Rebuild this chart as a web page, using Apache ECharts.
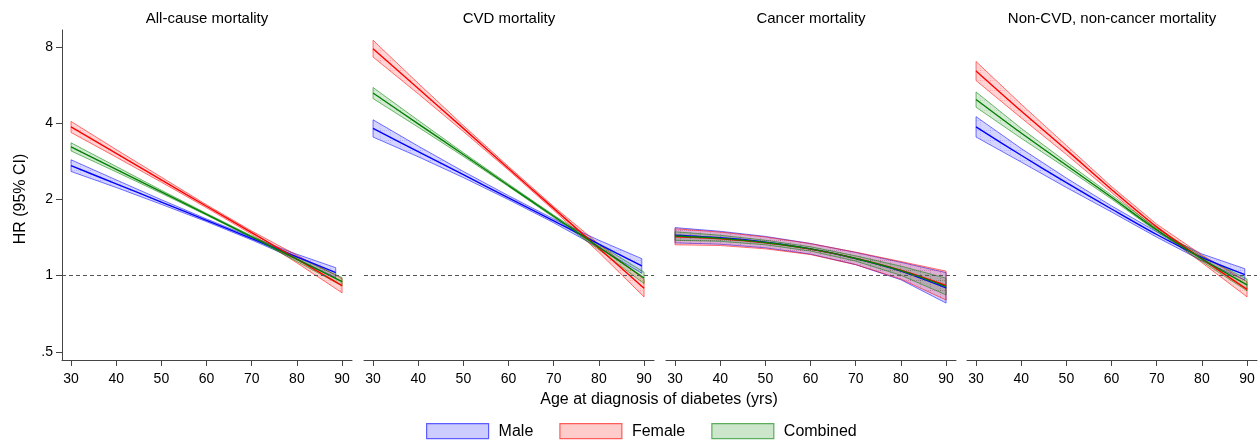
<!DOCTYPE html>
<html>
<head>
<meta charset="utf-8">
<script src="https://cdn.jsdelivr.net/npm/echarts@6/dist/echarts.min.js"></script>
<style>
html,body{margin:0;padding:0;background:#fff;}
#chart{width:1260px;height:441px;}
</style>
</head>
<body>
<div id="chart"></div>
<script>
// ---------- data ----------
const panelTitles = ['All-cause mortality', 'CVD mortality', 'Cancer mortality', 'Non-CVD, non-cancer mortality'];
const groupNames = ['Male', 'Female', 'Combined'];
const ageTicks = [30, 40, 50, 60, 70, 80, 90];
const hrTicks = [0.5, 1, 2, 4, 8];
const hrTickLabels = ['.5', '1', '2', '4', '8'];
const xTitle = 'Age at diagnosis of diabetes (yrs)';
const yTitle = 'HR (95% CI)';

const ages = [30, 40, 50, 60, 70, 80, 90];
const maleAgesAll = [30, 40, 50, 60, 70, 80, 88.6];
const maleAgesCvd = [30, 40, 50, 60, 70, 80, 89.5];
const maleAgesCancer = [30, 40, 50, 60, 70, 80, 90];
const maleAgesOther = [30, 40, 50, 60, 70, 80, 89.5];

// All-cause mortality
const allMaleHR = [2.72, 2.305, 1.953, 1.654, 1.401, 1.186, 1.028];
const allMaleLo = [2.58, 2.23, 1.913, 1.634, 1.383, 1.157, 0.983];
const allMaleHi = [2.87, 2.39, 1.995, 1.675, 1.418, 1.215, 1.075];
const allFemaleHR = [3.87, 3.04, 2.39, 1.88, 1.478, 1.162, 0.913];
const allFemaleLo = [3.68, 2.94, 2.34, 1.854, 1.456, 1.123, 0.855];
const allFemaleHi = [4.07, 3.15, 2.45, 1.906, 1.501, 1.203, 0.975];
const allCombHR = [3.23, 2.63, 2.145, 1.747, 1.424, 1.161, 0.946];
const allCombLo = [3.11, 2.57, 2.115, 1.733, 1.412, 1.137, 0.911];
const allCombHi = [3.35, 2.70, 2.175, 1.762, 1.436, 1.185, 0.983];

// CVD mortality
const cvdMaleHR = [3.82, 3.09, 2.505, 2.03, 1.646, 1.333, 1.092];
const cvdMaleLo = [3.53, 2.95, 2.44, 1.996, 1.618, 1.288, 1.022];
const cvdMaleHi = [4.13, 3.25, 2.58, 2.07, 1.675, 1.380, 1.167];
const cvdFemaleHR = [7.89, 5.49, 3.82, 2.65, 1.844, 1.282, 0.892];
const cvdFemaleLo = [7.31, 5.23, 3.71, 2.61, 1.812, 1.235, 0.824];
const cvdFemaleHi = [8.52, 5.76, 3.92, 2.70, 1.876, 1.332, 0.966];
const cvdCombHR = [5.27, 3.98, 3.01, 2.27, 1.716, 1.297, 0.979];
const cvdCombLo = [5.01, 3.86, 2.96, 2.25, 1.698, 1.266, 0.930];
const cvdCombHi = [5.54, 4.11, 3.06, 2.30, 1.734, 1.329, 1.032];

// Cancer mortality
const cancerMaleHR = [1.444, 1.411, 1.357, 1.276, 1.168, 1.042, 0.895];
const cancerMaleLo = [1.347, 1.331, 1.288, 1.216, 1.105, 0.963, 0.779];
const cancerMaleHi = [1.548, 1.497, 1.429, 1.340, 1.235, 1.129, 1.028];
const cancerFemaleHR = [1.424, 1.398, 1.347, 1.273, 1.170, 1.050, 0.914];
const cancerFemaleLo = [1.324, 1.315, 1.276, 1.211, 1.105, 0.969, 0.801];
const cancerFemaleHi = [1.532, 1.486, 1.422, 1.338, 1.238, 1.137, 1.042];
const cancerCombHR = [1.434, 1.404, 1.352, 1.275, 1.169, 1.046, 0.905];
const cancerCombLo = [1.380, 1.366, 1.324, 1.250, 1.141, 1.003, 0.839];
const cancerCombHi = [1.490, 1.444, 1.380, 1.300, 1.197, 1.090, 0.977];

// Non-CVD, non-cancer mortality
const otherMaleHR = [3.87, 2.99, 2.33, 1.834, 1.454, 1.181, 1.01];
const otherMaleLo = [3.53, 2.81, 2.23, 1.784, 1.419, 1.145, 0.96];
const otherMaleHi = [4.25, 3.18, 2.43, 1.886, 1.490, 1.218, 1.065];
const otherFemaleHR = [6.44, 4.47, 3.14, 2.19, 1.558, 1.165, 0.883];
const otherFemaleLo = [5.90, 4.20, 3.01, 2.13, 1.521, 1.125, 0.824];
const otherFemaleHi = [7.02, 4.76, 3.27, 2.25, 1.597, 1.206, 0.946];
const otherCombHR = [4.97, 3.66, 2.73, 2.04, 1.516, 1.165, 0.919];
const otherCombLo = [4.63, 3.49, 2.66, 2.007, 1.493, 1.137, 0.871];
const otherCombHi = [5.32, 3.82, 2.81, 2.08, 1.539, 1.193, 0.969];

// ---------- assembly ----------
const panels = [
  {male: [maleAgesAll, allMaleHR, allMaleLo, allMaleHi], female: [ages, allFemaleHR, allFemaleLo, allFemaleHi], comb: [ages, allCombHR, allCombLo, allCombHi]},
  {male: [maleAgesCvd, cvdMaleHR, cvdMaleLo, cvdMaleHi], female: [ages, cvdFemaleHR, cvdFemaleLo, cvdFemaleHi], comb: [ages, cvdCombHR, cvdCombLo, cvdCombHi]},
  {male: [maleAgesCancer, cancerMaleHR, cancerMaleLo, cancerMaleHi], female: [ages, cancerFemaleHR, cancerFemaleLo, cancerFemaleHi], comb: [ages, cancerCombHR, cancerCombLo, cancerCombHi]},
  {male: [maleAgesOther, otherMaleHR, otherMaleLo, otherMaleHi], female: [ages, otherFemaleHR, otherFemaleLo, otherFemaleHi], comb: [ages, otherCombHR, otherCombLo, otherCombHi]}
];

const FONT = 'Arial, "Liberation Sans", Helvetica, sans-serif';
const styles = {
  Male: {line: '#0000ff', rgb: '0,0,255', edge: 'rgba(0,0,255,0.6)'},
  Female: {line: '#ff0000', rgb: '255,0,0', edge: 'rgba(255,0,0,0.6)'},
  Combined: {line: '#008000', rgb: '0,128,0', edge: 'rgba(0,128,0,0.6)'}
};

// hatched fill tile similar to the reference's patterned CI areas
function makeTile(rgb) {
  const c = document.createElement('canvas');
  c.width = 10; c.height = 10;
  const g = c.getContext('2d');
  g.fillStyle = 'rgba(' + rgb + ',0.17)';
  g.fillRect(0, 0, 10, 10);
  g.fillStyle = 'rgba(' + rgb + ',0.13)';
  for (let i = 0; i < 10; i += 2) { g.fillRect(i, 0, 1, 1); g.fillRect(0, i, 1, 1); }
  return c;
}
Object.keys(styles).forEach(k => { styles[k].fill = {image: makeTile(styles[k].rgb), repeat: 'repeat'}; styles[k].flat = 'rgba(' + styles[k].rgb + ',0.2)'; });

const gridLefts = [62, 364, 666, 967];
const gridWidth = 290;
const gridTop = 30;
const gridHeight = 330;

const grids = [], xAxes = [], yAxes = [], series = [], graphics = [];

function bandSeries(name, gi, xs, lo, hi) {
  const st = styles[name];
  return {
    type: 'custom', name: name, xAxisIndex: gi, yAxisIndex: gi, z: 2,
    silent: true,
    itemStyle: {color: st.flat},
    data: xs.map((x, i) => [x, lo[i], hi[i]]),
    encode: {x: 0, y: [1, 2]},
    renderItem: function (params, api) {
      if (params.dataIndex !== 0) return null;
      const pts = [];
      for (let i = 0; i < xs.length; i++) pts.push(api.coord([xs[i], hi[i]]));
      for (let i = xs.length - 1; i >= 0; i--) pts.push(api.coord([xs[i], lo[i]]));
      return {
        type: 'polygon',
        shape: {points: pts},
        style: {fill: st.fill, stroke: st.edge, lineWidth: 0.9}
      };
    }
  };
}

function lineSeries(name, gi, xs, hr, withRef) {
  const st = styles[name];
  const s = {
    type: 'line', name: name, xAxisIndex: gi, yAxisIndex: gi, z: 3,
    data: xs.map((x, i) => [x, hr[i]]),
    showSymbol: false, symbol: 'none', silent: true, smooth: 0.3,
    lineStyle: {color: st.line, width: 1.4},
    itemStyle: {color: st.line},
    animation: false
  };
  if (withRef) {
    s.markLine = {
      silent: true, symbol: 'none', animation: false,
      label: {show: false},
      lineStyle: {color: '#555', type: [4, 3], width: 1},
      data: [{yAxis: 1}]
    };
  }
  return s;
}

panels.forEach((p, gi) => {
  grids.push({left: gridLefts[gi], top: gridTop, width: gridWidth, height: gridHeight, containLabel: false});
  xAxes.push({
    type: 'value', gridIndex: gi, min: 28, max: 92.2,
    axisLine: {show: true, lineStyle: {color: '#444', width: 1}},
    axisTick: {show: true, length: 6, lineStyle: {color: '#444'}, customValues: ageTicks},
    axisLabel: {show: true, customValues: ageTicks, color: '#000', fontSize: 14, fontFamily: FONT, margin: 12},
    splitLine: {show: false}
  });
  yAxes.push({
    type: 'log', logBase: 2, gridIndex: gi, min: 0.464, max: 9.35,
    show: gi === 0,
    axisLine: {show: gi === 0, lineStyle: {color: '#444', width: 1}},
    axisTick: {show: gi === 0, length: 6, lineStyle: {color: '#444'}, customValues: hrTicks},
    axisLabel: {show: gi === 0, customValues: hrTicks, color: '#000', fontSize: 14, fontFamily: FONT, margin: 9,
      formatter: function (v) { const k = hrTicks.findIndex(t => Math.abs(t - v) < 1e-6); return k >= 0 ? hrTickLabels[k] : ''; }},
    splitLine: {show: false}
  });
  series.push(bandSeries('Male', gi, p.male[0], p.male[2], p.male[3]));
  series.push(bandSeries('Female', gi, p.female[0], p.female[2], p.female[3]));
  series.push(bandSeries('Combined', gi, p.comb[0], p.comb[2], p.comb[3]));
  series.push(lineSeries('Male', gi, p.male[0], p.male[1], false));
  series.push(lineSeries('Female', gi, p.female[0], p.female[1], false));
  series.push(lineSeries('Combined', gi, p.comb[0], p.comb[1], true));
  graphics.push({
    type: 'text', x: gridLefts[gi] + gridWidth / 2, y: 19,
    style: {text: panelTitles[gi], fill: '#000', font: '15px ' + FONT, textAlign: 'center', textVerticalAlign: 'middle'}
  });
});

graphics.push({
  type: 'text', x: 659, y: 400,
  style: {text: xTitle, fill: '#000', font: '16px ' + FONT, textAlign: 'center', textVerticalAlign: 'middle'}
});
graphics.push({
  type: 'text', x: 21, y: 199, rotation: Math.PI / 2,
  style: {text: yTitle, fill: '#000', font: '16px ' + FONT, textAlign: 'center', textVerticalAlign: 'middle'}
});

const chart = echarts.init(document.getElementById('chart'), null, {renderer: 'canvas'});
chart.setOption({
  animation: false,
  backgroundColor: '#fff',
  grid: grids,
  xAxis: xAxes,
  yAxis: yAxes,
  legend: {
    left: 426, top: 423, padding: 0,
    itemWidth: 62, itemHeight: 15, itemGap: 26,
    icon: 'rect',
    textStyle: {fontSize: 16, fontFamily: FONT, color: '#000', padding: [0, 0, 0, 5]},
    selectedMode: false,
    data: groupNames.map(n => ({
      name: n, icon: 'rect',
      itemStyle: {color: styles[n].flat, borderColor: styles[n].edge, borderWidth: 1.2}
    }))
  },
  graphic: graphics,
  series: series
});
</script>
</body>
</html>
